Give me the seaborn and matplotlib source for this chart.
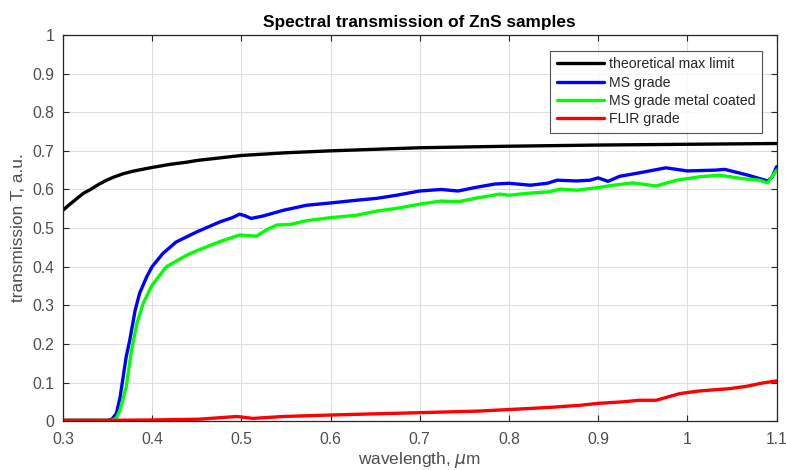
"""
Spectral transmission of ZnS samples, MATLAB-look line chart.
"""
import numpy as np
import pandas as pd
import seaborn as sns
import matplotlib.pyplot as plt

# wavelength (um) / transmission values
wl_max = [0.30, 0.308, 0.316, 0.323, 0.331, 0.34, 0.349, 0.357, 0.368, 0.38, 0.40, 0.42, 0.44, 0.45,
          0.50, 0.55, 0.60, 0.70, 0.80, 0.90, 1.00, 1.10]
t_max = [0.546, 0.562, 0.577, 0.590, 0.600, 0.613, 0.624, 0.632, 0.641, 0.648, 0.657, 0.665, 0.671, 0.675,
         0.688, 0.695, 0.700, 0.708, 0.712, 0.715, 0.717, 0.719]

wl_ms = [0.30, 0.35, 0.355, 0.36, 0.364, 0.371, 0.375, 0.381, 0.386, 0.394, 0.40, 0.412, 0.427, 0.45,
         0.476, 0.49, 0.498, 0.504, 0.511, 0.524, 0.547, 0.573, 0.60, 0.629, 0.652, 0.674, 0.70,
         0.724, 0.743, 0.762, 0.784, 0.80, 0.824, 0.843, 0.854, 0.876, 0.891, 0.90, 0.911, 0.924,
         0.946, 0.976, 1.00, 1.031, 1.042, 1.068, 1.09, 1.095, 1.10]
t_ms = [0.002, 0.002, 0.005, 0.02, 0.06, 0.167, 0.21, 0.287, 0.331, 0.374, 0.40, 0.434, 0.464, 0.490,
        0.516, 0.527, 0.536, 0.532, 0.525, 0.531, 0.546, 0.559, 0.565, 0.572, 0.577, 0.585, 0.596,
        0.600, 0.596, 0.605, 0.614, 0.616, 0.611, 0.616, 0.624, 0.622, 0.624, 0.630, 0.621, 0.634,
        0.643, 0.656, 0.648, 0.650, 0.652, 0.637, 0.622, 0.632, 0.659]

wl_coated = [0.30, 0.355, 0.36, 0.364, 0.371, 0.377, 0.383, 0.39, 0.40, 0.416, 0.439, 0.452, 0.476,
             0.498, 0.517, 0.528, 0.54, 0.554, 0.573, 0.60, 0.629, 0.652, 0.674, 0.70, 0.724, 0.743,
             0.762, 0.79, 0.80, 0.82, 0.846, 0.857, 0.876, 0.90, 0.917, 0.939, 0.965, 0.988, 1.014,
             1.036, 1.062, 1.081, 1.09, 1.10]
t_coated = [0.002, 0.002, 0.008, 0.028, 0.089, 0.184, 0.253, 0.305, 0.352, 0.40, 0.430, 0.443, 0.465,
            0.482, 0.479, 0.495, 0.508, 0.509, 0.519, 0.527, 0.533, 0.544, 0.551, 0.562, 0.570, 0.568,
            0.577, 0.588, 0.585, 0.590, 0.594, 0.601, 0.598, 0.605, 0.611, 0.617, 0.609, 0.624, 0.633,
            0.637, 0.628, 0.624, 0.617, 0.650]

wl_flir = [0.30, 0.35, 0.40, 0.453, 0.495, 0.513, 0.547, 0.603, 0.702, 0.766, 0.80, 0.842, 0.88, 0.90,
           0.928, 0.946, 0.965, 0.991, 1.00, 1.013, 1.047, 1.066, 1.085, 1.10]
t_flir = [0.002, 0.002, 0.003, 0.005, 0.012, 0.007, 0.012, 0.016, 0.022, 0.026, 0.030, 0.035, 0.041, 0.046,
          0.050, 0.054, 0.054, 0.071, 0.074, 0.078, 0.084, 0.090, 0.099, 0.104]

series = [
    ('theoretical max limit', wl_max, t_max, 'black'),
    ('MS grade', wl_ms, t_ms, '#0000ff'),
    ('MS grade metal coated', wl_coated, t_coated, '#00ff00'),
    ('FLIR grade', wl_flir, t_flir, '#ff0000'),
]

sns.set_style('white')
plt.rcParams['font.family'] = ['Liberation Sans', 'DejaVu Sans']
axcol = '#262626'

fig = plt.figure(figsize=(7.86, 4.70), dpi=100)
ax = fig.add_axes([0.080, 0.104, 0.908, 0.8215])

for name, x, y, col in series:
    df = pd.DataFrame({'wl': x, 'T': y})
    sns.lineplot(data=df, x='wl', y='T', ax=ax, color=col, linewidth=2.4, label=name)

ax.set_xlim(0.3, 1.1)
ax.set_ylim(0, 1)
ax.set_xticks(np.round(np.arange(0.3, 1.101, 0.1), 1))
ax.set_xticklabels(['0.3', '0.4', '0.5', '0.6', '0.7', '0.8', '0.9', '1', '1.1'])
ax.set_yticks(np.round(np.arange(0, 1.001, 0.1), 1))
ax.set_yticklabels(['0', '0.1', '0.2', '0.3', '0.4', '0.5', '0.6', '0.7', '0.8', '0.9', '1'])

ax.grid(True, color='#dedede', linewidth=0.8)
ax.set_axisbelow(True)
for s in ax.spines.values():
    s.set_color(axcol)
    s.set_linewidth(0.9)
    s.set_visible(True)
ax.tick_params(direction='in', length=4, width=0.8, color=axcol, labelcolor='#4d4d4d',
               labelsize=11.3, top=True, right=True, bottom=True, left=True)
ax.tick_params(axis='x', pad=8)
ax.tick_params(axis='y', pad=6)

ax.set_xlabel(r'wavelength, $\mu$m', fontsize=12.4, color='#4d4d4d', labelpad=2)
ax.set_ylabel('transmission T, a.u.', fontsize=12.4, color='#4d4d4d', labelpad=5)
ax.set_title('Spectral transmission of ZnS samples', fontsize=12.4, fontweight='bold', color='black', pad=6)

leg = ax.legend(loc='upper right', bbox_to_anchor=(0.979, 0.9585), fontsize=10.2, frameon=True,
                fancybox=False, edgecolor='#262626', handlelength=3.3, handletextpad=0.35,
                labelspacing=0.3, borderpad=0.45, borderaxespad=0)
leg.get_frame().set_linewidth(0.8)
for t in leg.get_texts():
    t.set_color('#262626')

fig.savefig('out.png', dpi=100)
